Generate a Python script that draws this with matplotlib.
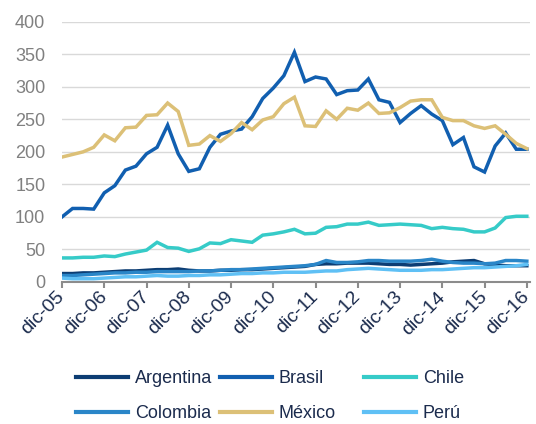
import numpy as np
import matplotlib
matplotlib.use("Agg")
from matplotlib import pyplot as plt
from matplotlib.lines import Line2D

plt.rcParams['font.family'] = ['Liberation Sans', 'DejaVu Sans']

# quarterly series, dic-05 .. dic-16
argentina = [13, 13, 14, 14, 15, 16, 17, 17, 18, 19, 19, 20, 18, 17, 17, 18, 18,
             19, 19, 20, 21, 22, 23, 24, 27, 28, 28, 29, 29, 29, 28, 27, 27,
             26, 27, 28, 29, 31, 32, 33, 28, 26, 25, 25, 25]
brasil = [100, 113, 113, 112, 137, 148, 172, 178, 197, 207, 241, 197, 170, 174, 207,
          227, 232, 235, 254, 282, 298, 317, 353, 308, 315, 312, 288, 294, 295,
          312, 280, 276, 245, 259, 271, 258, 248, 211, 222, 177, 169, 209, 229,
          204, 204]
chile = [37, 37, 38, 38, 40, 39, 43, 46, 49, 61, 53, 52, 47, 51, 60, 59, 65, 63,
         61, 72, 74, 77, 81, 74, 75, 84, 85, 89, 89, 92, 87, 88, 89, 88, 87, 82,
         84, 82, 81, 77, 77, 83, 99, 101, 101]
colombia = [10, 10, 11, 12, 13, 14, 14, 15, 15, 16, 16, 16, 16, 17, 17, 18, 19,
            19, 20, 21, 22, 23, 24, 25, 27, 33, 30, 30, 31, 33, 33, 32, 32,
            32, 33, 35, 32, 30, 29, 29, 28, 29, 33, 33, 32]
mexico = [192, 196, 200, 207, 226, 217, 237, 238, 256, 257, 275, 262, 210, 212,
          225, 216, 228, 245, 234, 249, 254, 274, 284, 240, 239, 263, 250, 267,
          264, 275, 259, 260, 268, 278, 280, 280, 253, 248, 248, 240, 236, 240,
          227, 213, 205]
peru = [6, 5, 5, 5, 6, 7, 8, 8, 9, 10, 9, 9, 10, 10, 11, 11, 12, 13, 13, 14, 14,
        15, 15, 15, 16, 17, 17, 19, 20, 21, 20, 19, 18, 18, 18, 19, 19, 20, 21,
        22, 22, 23, 24, 25, 27]

year_labels = ['dic-05', 'dic-06', 'dic-07', 'dic-08', 'dic-09', 'dic-10',
               'dic-11', 'dic-12', 'dic-13', 'dic-14', 'dic-15', 'dic-16']

series = [
    ('Argentina', argentina, '#0c3d73'),
    ('Brasil', brasil, '#115fb0'),
    ('Chile', chile, '#36cbc8'),
    ('Colombia', colombia, '#2a86c8'),
    ('México', mexico, '#dcc077'),
    ('Perú', peru, '#5fc0f5'),
]

navy = '#1b2b4d'
grey = '#808080'

fig = plt.figure(figsize=(5.36, 4.24), dpi=100)
ax = fig.add_axes([62 / 536, 1 - 282 / 424, 468 / 536, (282 - 21.7) / 424])

x = np.arange(len(brasil))
for name, vals, col in series:
    ax.plot(x, vals, color=col, lw=2.5, label=name, solid_joinstyle='miter')

ax.set_ylim(0, 400)
ax.set_xlim(0, 44.3)
ax.set_yticks(range(0, 401, 50))
ax.yaxis.grid(True, color='#d9d9d9', lw=1)
ax.set_axisbelow(True)
for s in ['left', 'right', 'top']:
    ax.spines[s].set_visible(False)
ax.spines['bottom'].set_color('#8c8c8c')
ax.spines['bottom'].set_linewidth(1.5)
ax.tick_params(axis='y', length=0, pad=12, labelsize=13, labelcolor=grey)
ax.tick_params(axis='x', length=4, width=1.5, color='#8c8c8c', pad=5,
               labelsize=14, labelcolor=navy)

ax.set_xticks(x[::4])
ax.set_xticklabels(year_labels, rotation=45, ha='right', va='center',
                   rotation_mode='anchor')

# legend laid out as three fixed-width columns
col_x = [76, 220, 364]
for c in range(3):
    hs = []
    for name, vals, col in (series[c], series[c + 3]):
        hs.append(Line2D([], [], color=col, lw=3, label=name))
    fig.legend(handles=hs, loc='upper left',
               bbox_to_anchor=(col_x[c] / 536, 1 - 370 / 424),
               frameon=False, fontsize=13, labelcolor=navy,
               handlelength=2.9, handletextpad=0.35, borderpad=0,
               borderaxespad=0, labelspacing=1.0)

fig.savefig('out.png', dpi=100)
